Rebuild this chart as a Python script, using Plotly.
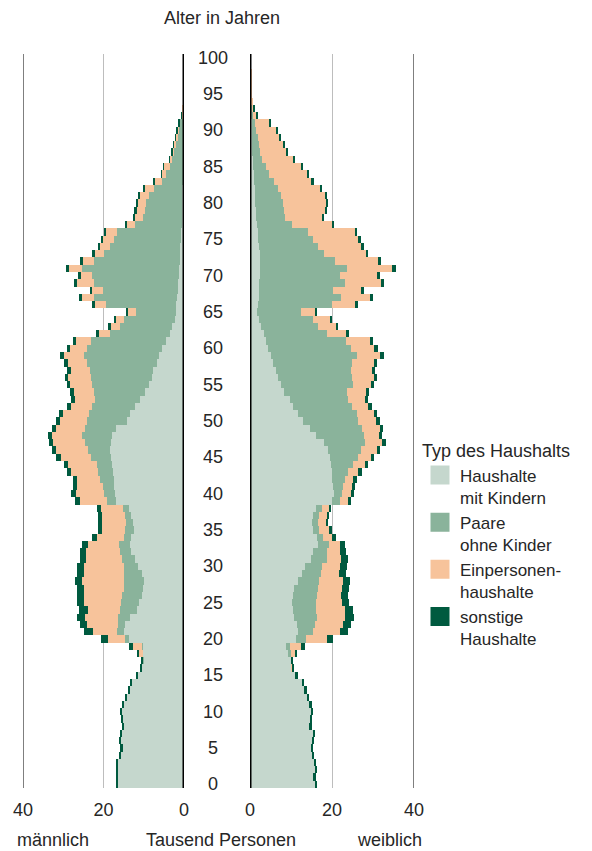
import plotly.graph_objects as go

# age groups (years)
ages = list(range(0, 101))
age_ticks = [0, 5, 10, 15, 20, 25, 30, 35, 40, 45, 50, 55, 60, 65, 70, 75, 80, 85, 90, 95, 100]

# male, thousand persons, age 0..100
m_kinder = [16.4, 16.6, 16.6, 16.6, 15.8, 15.4, 15.8, 15.6, 15.0, 15.2,
            15.6, 15.0, 14.2, 13.6, 13.1, 11.5, 10.5, 10.1, 10.2, 10.2,
            13.7, 14.8, 14.6, 13.3, 11.7, 11.2, 10.5, 10.2, 10.0, 10.4,
            11.4, 12.1, 13.2, 13.3, 13.2, 12.4, 12.7, 13.2, 13.7, 16.8,
            17.1, 17.3, 17.4, 17.6, 17.9, 18.1, 18.4, 18.1, 17.9, 16.8,
            14.2, 13.3, 12.1, 10.9, 9.6, 8.8, 8.0, 7.6, 6.7, 6.3,
            5.5, 4.4, 3.5, 3.0, 2.2, 2.0, 2.0, 1.8, 1.6, 1.5,
            1.3, 1.2, 1.1, 1.0, 0.9, 0.8, 0.7, 0.6, 0.5, 0.5,
            0.4, 0.4, 0.4, 0.3, 0.3, 0.3, 0.2, 0.2, 0.2, 0.1,
            0.1, 0.1, 0.1, 0.05, 0.05, 0, 0, 0, 0, 0,
            0]
m_paare = [0, 0, 0, 0, 0, 0, 0, 0, 0, 0,
           0, 0, 0, 0, 0, 0, 0, 0.1, 0.1, 0.2,
           0.9, 1.8, 1.9, 3.2, 4.1, 4.4, 4.9, 4.8, 4.9, 4.6,
           3.6, 3.3, 2.6, 2.9, 1.8, 2.2, 1.6, 1.4, 1.5, 2.3,
           2.7, 2.8, 3.5, 3.8, 3.8, 5.1, 5.5, 6.6, 7.4, 7.9,
           9.8, 10.3, 10.7, 11.1, 12.8, 14.0, 15.2, 15.8, 17.3, 18.6,
           18.5, 18.6, 14.8, 13.0, 12.6, 9.9, 17.5, 20.6, 18.5, 20.9,
           21.5, 24.1, 21.3, 18.9, 17.4, 16.6, 15.9, 11.5, 9.7, 9.3,
           9.0, 8.2, 7.0, 5.2, 4.1, 3.3, 2.8, 2.4, 1.8, 1.6,
           1.3, 0.9, 0.3, 0.15, 0.05, 0, 0, 0, 0, 0,
           0]
m_einzel = [0, 0, 0, 0, 0, 0, 0, 0, 0, 0,
            0, 0, 0, 0, 0, 0, 0.1, 0.1, 0.8, 2.3,
            4.4, 6.1, 7.7, 8.0, 8.1, 9.3, 9.5, 9.8, 10.4, 9.9,
            9.8, 8.9, 8.5, 7.7, 6.7, 5.8, 6.1, 5.8, 5.5, 6.8,
            7.1, 6.4, 5.7, 6.6, 7.0, 7.4, 7.9, 7.8, 7.5, 7.2,
            6.9, 6.4, 5.3, 5.2, 5.0, 5.4, 5.5, 4.7, 4.9, 4.9,
            4.2, 3.8, 2.8, 2.2, 2.0, 2.0, 2.6, 3.0, 2.7, 4.2,
            2.8, 3.3, 2.8, 2.3, 2.5, 2.7, 2.8, 2.2, 2.0, 2.1,
            2.2, 2.4, 2.3, 1.8, 1.1, 1.4, 0.5, 0.3, 0.5, 0.4,
            0.3, 0.2, 0.1, 0.05, 0, 0, 0, 0, 0, 0,
            0]
m_sonst = [0.4, 0.4, 0.4, 0.4, 0.4, 0.4, 0.4, 0.4, 0.4, 0.4,
           0.4, 0.4, 0.4, 0.4, 0.4, 0.4, 0.4, 0.4, 0.6, 0.9,
           1.6, 2.2, 1.6, 2.2, 2.2, 1.8, 1.8, 1.8, 1.8, 1.7,
           1.7, 1.6, 1.6, 1.5, 1.1, 1.0, 1.0, 1.0, 1.0, 1.2,
           1.2, 1.1, 1.1, 1.1, 1.1, 1.1, 1.1, 1.1, 1.1, 1.0,
           1.0, 1.0, 0.9, 0.9, 0.9, 0.9, 0.9, 0.9, 0.9, 1.0,
           0.8, 0.8, 0.7, 0.6, 0.6, 0.5, 0.7, 0.7, 0.6, 0.7,
           0.7, 0.8, 0.7, 0.6, 0.6, 0.6, 0.5, 0.4, 0.4, 0.4,
           0.4, 0.4, 0.3, 0.3, 0.2, 0.2, 0.2, 0.1, 0.1, 0.1,
           0.1, 0.1, 0.1, 0, 0, 0, 0, 0, 0, 0,
           0]

# female, thousand persons, age 0..100
w_kinder = [15.9, 15.6, 15.9, 15.7, 15.3, 14.9, 15.2, 15.5, 14.6, 14.8,
            15.0, 14.6, 14.0, 13.4, 12.8, 11.2, 10.2, 10.0, 9.5, 8.7,
            11.1, 11.8, 11.4, 10.8, 10.4, 10.2, 10.6, 10.8, 11.6, 12.6,
            13.4, 14.9, 15.4, 16.7, 16.3, 15.4, 15.0, 15.4, 16.0, 19.9,
            20.6, 20.3, 20.1, 20.1, 19.8, 19.5, 19.1, 18.0, 16.0, 14.6,
            12.9, 11.8, 10.6, 9.8, 8.4, 7.6, 6.9, 6.3, 5.7, 5.1,
            4.5, 3.8, 3.3, 2.7, 2.2, 1.6, 2.0, 2.2, 2.2, 2.2,
            2.4, 2.4, 2.4, 2.4, 2.2, 2.0, 1.9, 1.6, 1.5, 1.4,
            1.3, 1.2, 1.1, 1.0, 0.9, 0.8, 0.7, 0.6, 0.6, 0.5,
            0.5, 0.4, 0.3, 0.2, 0.2, 0.1, 0.1, 0.1, 0.1, 0.05,
            0.05]
w_paare = [0, 0, 0, 0, 0, 0, 0, 0, 0, 0,
           0, 0, 0, 0, 0, 0, 0, 0, 0.4, 1.1,
           2.6, 3.6, 4.5, 5.5, 5.6, 5.8, 5.7, 5.7, 5.2, 4.7,
           4.2, 3.8, 3.5, 2.6, 1.6, 1.4, 1.7, 1.4, 1.5, 2.1,
           1.9, 2.3, 3.1, 3.7, 5.4, 6.8, 8.0, 10.0, 11.9, 12.8,
           13.5, 14.2, 14.2, 14.0, 15.2, 17.4, 17.9, 18.3, 19.1, 20.9,
           20.1, 19.6, 15.4, 14.0, 13.2, 10.8, 18.1, 20.0, 18.1, 21.0,
           19.6, 21.2, 18.3, 15.7, 14.5, 13.4, 12.3, 8.6, 7.1, 7.0,
           6.8, 6.4, 5.7, 4.8, 3.7, 3.0, 2.3, 1.8, 1.6, 1.4,
           1.0, 0.7, 0.4, 0.2, 0.1, 0.1, 0.05, 0, 0, 0,
           0]
w_einzel = [0, 0, 0, 0, 0, 0, 0, 0, 0, 0,
            0, 0, 0, 0, 0, 0, 0.1, 0.2, 1.1, 2.6,
            5.0, 6.6, 6.7, 6.9, 7.2, 6.4, 5.9, 5.9, 5.9, 4.4,
            4.4, 3.6, 3.0, 2.7, 2.2, 2.4, 1.8, 1.9, 1.7, 1.8,
            2.1, 2.2, 2.0, 2.6, 2.9, 3.1, 3.8, 4.3, 3.6, 4.3,
            4.4, 4.2, 4.1, 4.3, 4.6, 4.5, 5.4, 5.1, 5.4, 5.8,
            5.7, 5.8, 4.8, 4.2, 4.2, 3.6, 5.6, 7.1, 6.8, 8.8,
            8.9, 11.0, 10.5, 10.1, 10.4, 11.0, 11.3, 9.8, 9.0, 9.8,
            10.5, 10.8, 10.3, 9.3, 9.4, 8.8, 7.7, 6.4, 6.0, 5.3,
            4.9, 3.7, 1.0, 0.5, 0.4, 0.4, 0.35, 0.3, 0.2, 0.15,
            0.15]
w_sonst = [0.4, 0.4, 0.4, 0.4, 0.4, 0.4, 0.4, 0.4, 0.4, 0.4,
           0.4, 0.4, 0.4, 0.4, 0.4, 0.4, 0.4, 0.4, 0.4, 1.0,
           1.6, 2.0, 2.0, 2.2, 1.9, 1.8, 1.8, 1.8, 1.7, 1.6,
           1.6, 1.5, 1.4, 1.2, 0.9, 0.7, 0.6, 0.6, 0.6, 0.8,
           0.8, 0.8, 0.8, 0.8, 0.8, 0.8, 0.8, 0.8, 0.8, 0.8,
           0.8, 0.8, 0.8, 0.8, 0.8, 0.8, 0.8, 0.8, 0.8, 0.9,
           0.8, 0.8, 0.6, 0.6, 0.5, 0.4, 0.7, 0.8, 0.7, 0.8,
           0.8, 0.9, 0.8, 0.7, 0.7, 0.7, 0.7, 0.6, 0.5, 0.5,
           0.5, 0.5, 0.5, 0.4, 0.4, 0.4, 0.3, 0.3, 0.3, 0.3,
           0.3, 0.2, 0.1, 0.1, 0, 0, 0, 0, 0, 0,
           0]

typ_names = ["Haushalte<br>mit Kindern", "Paare<br>ohne Kinder",
             "Einpersonen-<br>haushalte", "sonstige<br>Haushalte"]
typ_colors = ["#c5d7cd", "#8ab39b", "#f7c39b", "#005a3f"]

font_fam = "Liberation Sans, Arial, sans-serif"
txt_col = "#262626"

fig = go.Figure()

# left side (maennlich)
for vals, name, col in zip([m_kinder, m_paare, m_einzel, m_sonst], typ_names, typ_colors):
    fig.add_trace(go.Bar(y=ages, x=vals, orientation="h", name=name,
                         marker=dict(color=col, line=dict(width=0)),
                         xaxis="x", yaxis="y", showlegend=False))

# right side (weiblich)
for vals, name, col in zip([w_kinder, w_paare, w_einzel, w_sonst], typ_names, typ_colors):
    fig.add_trace(go.Bar(y=ages, x=vals, orientation="h", name=name,
                         marker=dict(color=col, line=dict(width=0)),
                         xaxis="x2", yaxis="y2", showlegend=False))

# legend entries with bigger square swatches
for name, col in zip(typ_names, typ_colors):
    fig.add_trace(go.Scatter(x=[None], y=[None], mode="markers", name=name,
                             marker=dict(symbol="square", size=16, color=col,
                                         line=dict(width=3, color=col)),
                             xaxis="x2", yaxis="y2"))

# page body has an 8px margin, so the figure is 8px smaller and
# all pixel positions below are reference pixels minus 8
W, H = 584, 843
top, bottom = 46, 780

def py(ypix):
    # pixel row -> paper coordinate
    return (bottom - ypix) / (bottom - top)

axis_common = dict(tickvals=[0, 20, 40], ticktext=["0", "20", "40"],
                   showgrid=True, gridcolor="#bdbdbd", gridwidth=1,
                   zeroline=False, showline=False,
                   ticks="outside", ticklen=5, tickcolor="rgba(0,0,0,0)",
                   tickfont=dict(size=18, color=txt_col, family=font_fam),
                   fixedrange=True)

fig.update_layout(
    width=W, height=H,
    margin=dict(l=0, r=0, t=top, b=H - bottom, autoexpand=False),
    barmode="stack", bargap=0,
    plot_bgcolor="white", paper_bgcolor="white",
    font=dict(family=font_fam, size=18, color=txt_col),
    xaxis=dict(domain=[15 / W, 176 / W], range=[40, 0], anchor="y", **axis_common),
    xaxis2=dict(domain=[242 / W, 406 / W], range=[0, 40], anchor="y2", **axis_common),
    yaxis=dict(range=[-0.5, 100.5], anchor="x", showticklabels=False,
               showgrid=False, zeroline=False, fixedrange=True),
    yaxis2=dict(range=[-0.5, 100.5], anchor="x2", matches="y", showticklabels=False,
                showgrid=False, zeroline=False, fixedrange=True),
    legend=dict(x=412 / W, y=1 - 426 / H, xref="container", yref="container",
                xanchor="left", yanchor="top",
                title=dict(text="Typ des Haushalts", font=dict(size=18)),
                font=dict(size=17), valign="top", bgcolor="rgba(0,0,0,0)",
                traceorder="normal"),
    hovermode=False,
)

# axis lines
fig.add_shape(type="line", xref="x", yref="paper", x0=40, x1=40, y0=0, y1=1,
              line=dict(color="#555555", width=1.5), layer="above")
fig.add_shape(type="line", xref="x", yref="paper", x0=0, x1=0, y0=0, y1=1,
              line=dict(color="black", width=3), layer="above")
fig.add_shape(type="line", xref="x2", yref="paper", x0=0, x1=0, y0=0, y1=1,
              line=dict(color="black", width=3), layer="above")
fig.add_shape(type="line", xref="x2", yref="paper", x0=40, x1=40, y0=0, y1=1,
              line=dict(color="#555555", width=1.5), layer="above")

# age labels in the middle
for a in age_ticks:
    fig.add_annotation(x=205 / W, xref="paper", y=a, yref="y", text=str(a),
                       showarrow=False, xanchor="center", yanchor="middle",
                       font=dict(size=18, color=txt_col))

fig.add_annotation(x=214 / W, xref="paper", y=py(10), yref="paper",
                   text="Alter in Jahren", showarrow=False,
                   xanchor="center", yanchor="middle")
fig.add_annotation(x=7 / W, xref="paper", y=py(832), yref="paper",
                   text="männlich", showarrow=False,
                   xanchor="left", yanchor="middle")
fig.add_annotation(x=213 / W, xref="paper", y=py(832), yref="paper",
                   text="Tausend Personen", showarrow=False,
                   xanchor="center", yanchor="middle")
fig.add_annotation(x=416 / W, xref="paper", y=py(832), yref="paper",
                   text="weiblich", showarrow=False,
                   xanchor="right", yanchor="middle")

fig.write_html("out.html")
